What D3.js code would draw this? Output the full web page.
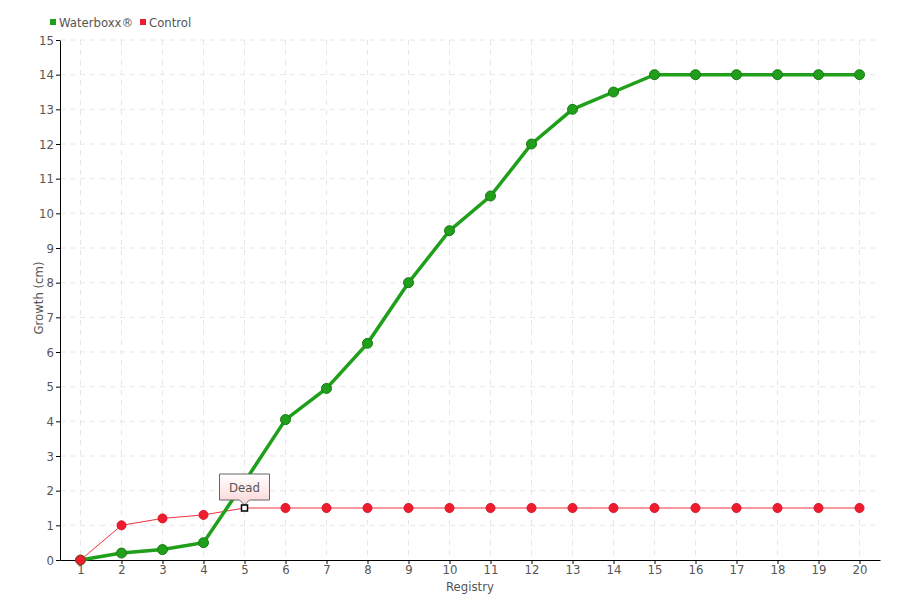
<!DOCTYPE html>
<html>
<head>
<meta charset="utf-8">
<script src="https://cdn.jsdelivr.net/npm/d3@7"></script>
<style>
  body { margin: 0; background: #fff; }
  text { font-family: "Liberation Sans Narrow", "DejaVu Sans Condensed", "Roboto", sans-serif; fill: #555; }
</style>
</head>
<body>
<svg width="900" height="600"></svg>
<script>
var registry = [1,2,3,4,5,6,7,8,9,10,11,12,13,14,15,16,17,18,19,20];
var waterboxx = [0,0.2,0.3,0.5,2.25,4.05,4.95,6.25,8,9.5,10.5,12,13,13.5,14,14,14,14,14,14];
var control = [0,1,1.2,1.3,1.5,1.5,1.5,1.5,1.5,1.5,1.5,1.5,1.5,1.5,1.5,1.5,1.5,1.5,1.5,1.5];
var yTicks = [0,1,2,3,4,5,6,7,8,9,10,11,12,13,14,15];
var deadIndex = 4;

var svg = d3.select('svg');
var mLeft = 60, mRight = 880, mTop = 40, mBottom = 560;

var x = d3.scalePoint().domain(registry).range([mLeft, mRight]).padding(0.5);
var y = d3.scaleLinear().domain([0, 15]).range([mBottom, mTop]);

// grid
svg.append('g').selectAll('line').data(registry).enter().append('line')
    .attr('x1', d => x(d)).attr('x2', d => x(d))
    .attr('y1', mTop).attr('y2', mBottom)
    .style('stroke', '#e6e6e6').style('stroke-dasharray', '5,5');
svg.append('g').selectAll('line').data(yTicks.slice(1)).enter().append('line')
    .attr('x1', mLeft).attr('x2', mRight)
    .attr('y1', d => y(d)).attr('y2', d => y(d))
    .style('stroke', '#e6e6e6').style('stroke-dasharray', '5,5');

// axes
var xAxis = svg.append('g').attr('transform', 'translate(0,' + mBottom + ')')
    .call(d3.axisBottom(x).tickSize(4).tickPadding(1).tickSizeOuter(0));
var yAxis = svg.append('g').attr('transform', 'translate(' + mLeft + ',0)')
    .call(d3.axisLeft(y).tickValues(yTicks).tickSize(4).tickPadding(2).tickSizeOuter(0));
[xAxis, yAxis].forEach(function(a) {
  a.select('.domain').style('stroke', '#000');
  a.selectAll('.tick line').style('stroke', '#000');
  a.selectAll('.tick text').style('font-size', '13px').style('fill', '#555')
    .style('font-family', '"Liberation Sans Narrow", "DejaVu Sans Condensed", "Roboto", sans-serif');
});

svg.append('text').attr('x', 470).attr('y', 591).attr('text-anchor', 'middle')
    .style('font-size', '13px').text('Registry');
svg.append('text').attr('transform', 'translate(43,298) rotate(-90)').attr('text-anchor', 'middle')
    .style('font-size', '13px').text('Growth (cm)');

// lines
var line = d3.line().x((d, i) => x(registry[i])).y(d => y(d));

svg.append('path').datum(control).attr('d', line)
    .style('fill', 'none').style('stroke', '#f0303f').style('stroke-width', 1);
svg.append('path').datum(waterboxx).attr('d', line)
    .style('fill', 'none').style('stroke', '#1f9f1a').style('stroke-width', 3.5);

svg.append('g').selectAll('circle').data(waterboxx).enter().append('circle')
    .attr('cx', (d, i) => x(registry[i])).attr('cy', d => y(d)).attr('r', 5)
    .style('fill', '#1f9f1a').style('stroke', '#187a14').style('stroke-width', 1);

var cm = svg.append('g');
control.forEach(function(d, i) {
  if (i === deadIndex) return;
  cm.append('circle').attr('cx', x(registry[i])).attr('cy', y(d)).attr('r', 4.5)
    .style('fill', '#ee1c2e').style('stroke', '#d81525').style('stroke-width', 1);
});

// tooltip
var dx = x(registry[deadIndex]), dy = y(control[deadIndex]);
var grad = svg.append('defs').append('linearGradient').attr('id', 'tg')
    .attr('x1', 0).attr('y1', 0).attr('x2', 0).attr('y2', 1);
grad.append('stop').attr('offset', '0%').attr('stop-color', '#ffffff');
grad.append('stop').attr('offset', '100%').attr('stop-color', '#fbd5d5');
var bw = 50, bh = 26, by = dy - 8 - bh;
svg.append('path')
    .attr('d', 'M' + (dx - bw / 2) + ',' + by + 'h' + bw + 'v' + bh + 'h' + (-(bw / 2 - 5)) +
      'l-5,5l-5,-5h' + (-(bw / 2 - 5)) + 'z')
    .style('fill', 'url(#tg)').style('stroke', '#666').style('stroke-width', 1);
svg.append('text').attr('x', dx).attr('y', by + 18).attr('text-anchor', 'middle')
    .style('font-size', '13px').style('fill', '#555').text('Dead');
svg.append('rect').attr('x', dx - 3).attr('y', dy - 3).attr('width', 6).attr('height', 6)
    .style('fill', '#fff').style('stroke', '#000').style('stroke-width', 1.5);

// legend
var legend = [{name: 'Waterboxx®', color: '#1f9f1a', x: 50}, {name: 'Control', color: '#ee1c2e', x: 140}];
var lg = svg.append('g').selectAll('g').data(legend).enter().append('g')
    .attr('transform', d => 'translate(' + d.x + ',22)');
lg.append('rect').attr('x', 0).attr('y', -3).attr('width', 6).attr('height', 6).style('fill', d => d.color);
lg.append('text').attr('x', 9).attr('y', 5).style('font-size', '13px').text(d => d.name);
</script>
</body>
</html>
